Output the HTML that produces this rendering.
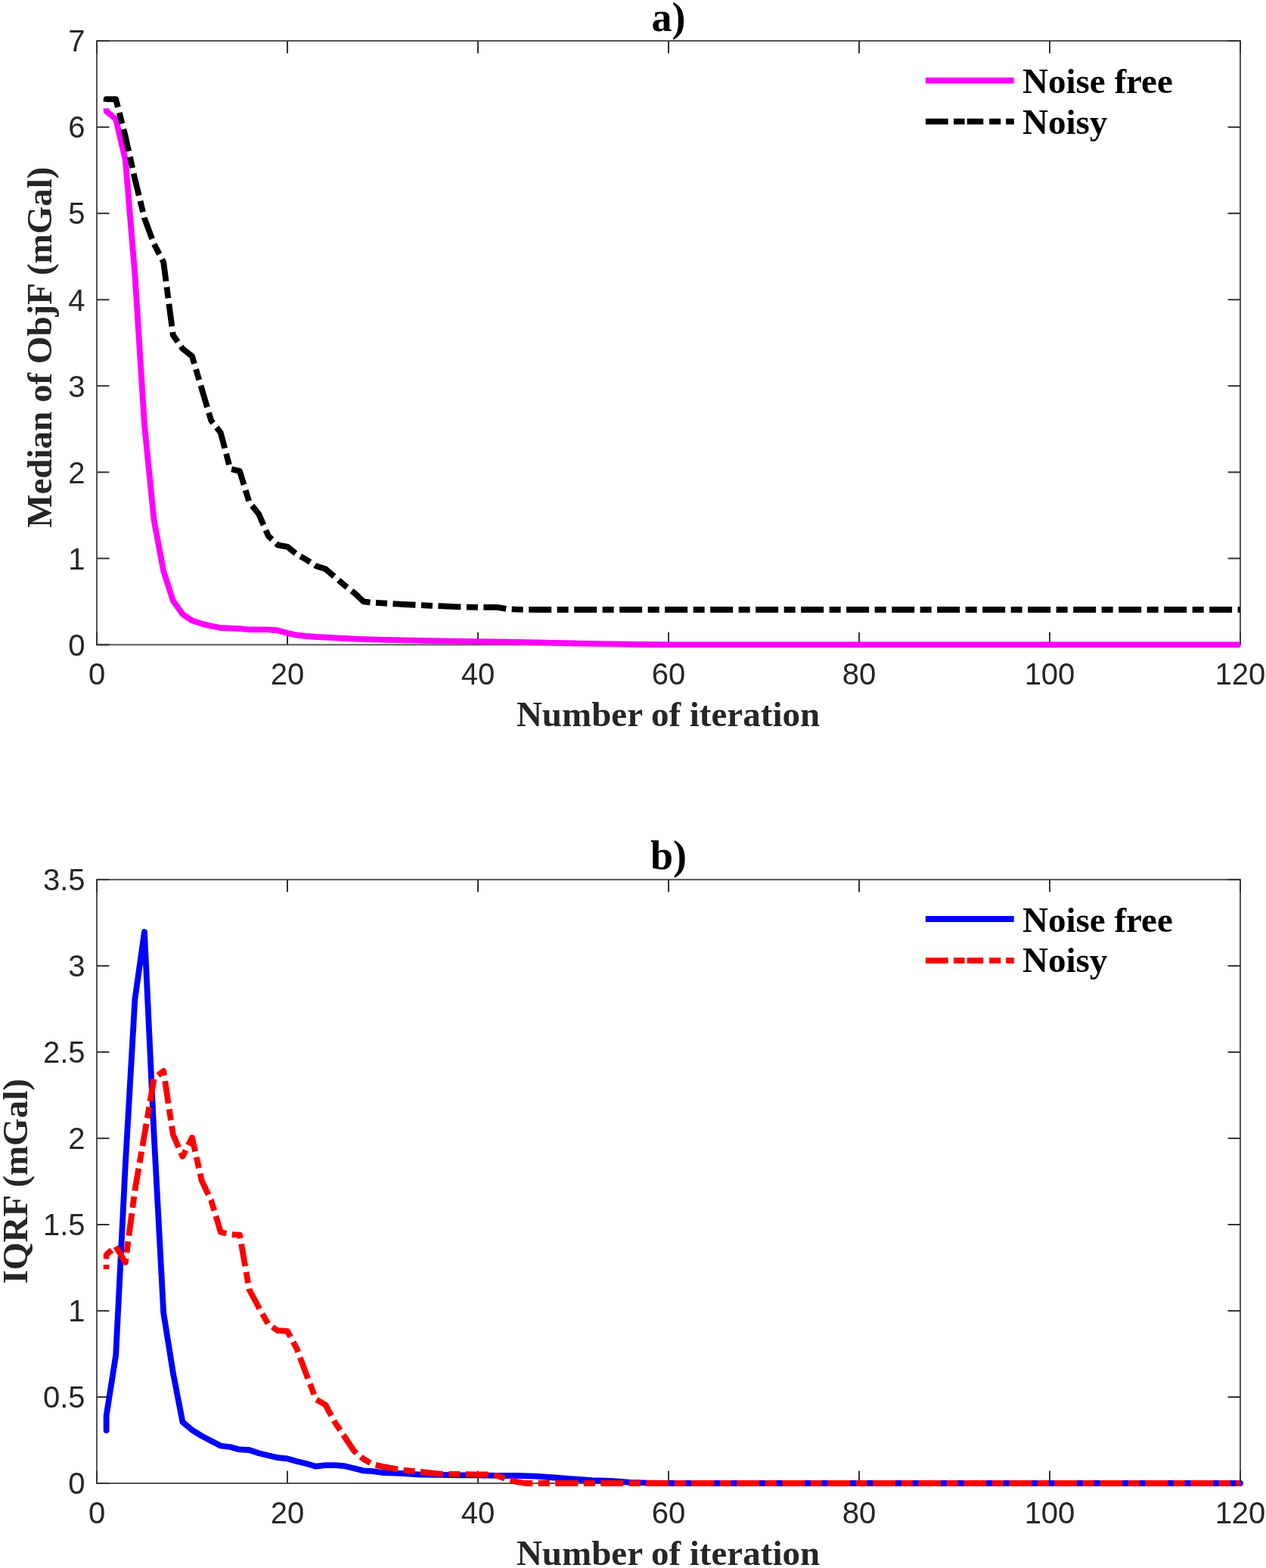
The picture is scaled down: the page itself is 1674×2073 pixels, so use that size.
<!DOCTYPE html>
<html><head><meta charset="utf-8"><title>Median and IQR of objective function vs iteration</title>
<style>html,body{margin:0;padding:0;background:#fff;}body{width:1674px;height:2073px;overflow:hidden;}svg{display:block;}</style>
</head><body>
<svg width="1674" height="2073" viewBox="0 0 1674 2073">
<rect x="0" y="0" width="1674" height="2073" fill="#ffffff"/>
<rect x="128.0" y="54.0" width="1512.0" height="798.4" fill="none" stroke="#555555" stroke-width="2"/>
<g stroke="#333333" stroke-width="2" fill="none"><line x1="128.0" y1="852.4" x2="128.0" y2="836.0"/><line x1="128.0" y1="54.0" x2="128.0" y2="70.4"/><line x1="380.0" y1="852.4" x2="380.0" y2="836.0"/><line x1="380.0" y1="54.0" x2="380.0" y2="70.4"/><line x1="632.0" y1="852.4" x2="632.0" y2="836.0"/><line x1="632.0" y1="54.0" x2="632.0" y2="70.4"/><line x1="884.0" y1="852.4" x2="884.0" y2="836.0"/><line x1="884.0" y1="54.0" x2="884.0" y2="70.4"/><line x1="1136.0" y1="852.4" x2="1136.0" y2="836.0"/><line x1="1136.0" y1="54.0" x2="1136.0" y2="70.4"/><line x1="1388.0" y1="852.4" x2="1388.0" y2="836.0"/><line x1="1388.0" y1="54.0" x2="1388.0" y2="70.4"/><line x1="1640.0" y1="852.4" x2="1640.0" y2="836.0"/><line x1="1640.0" y1="54.0" x2="1640.0" y2="70.4"/><line x1="128.0" y1="852.4" x2="144.4" y2="852.4"/><line x1="1640.0" y1="852.4" x2="1623.6" y2="852.4"/><line x1="128.0" y1="738.3" x2="144.4" y2="738.3"/><line x1="1640.0" y1="738.3" x2="1623.6" y2="738.3"/><line x1="128.0" y1="624.3" x2="144.4" y2="624.3"/><line x1="1640.0" y1="624.3" x2="1623.6" y2="624.3"/><line x1="128.0" y1="510.2" x2="144.4" y2="510.2"/><line x1="1640.0" y1="510.2" x2="1623.6" y2="510.2"/><line x1="128.0" y1="396.2" x2="144.4" y2="396.2"/><line x1="1640.0" y1="396.2" x2="1623.6" y2="396.2"/><line x1="128.0" y1="282.1" x2="144.4" y2="282.1"/><line x1="1640.0" y1="282.1" x2="1623.6" y2="282.1"/><line x1="128.0" y1="168.1" x2="144.4" y2="168.1"/><line x1="1640.0" y1="168.1" x2="1623.6" y2="168.1"/><line x1="128.0" y1="54.0" x2="144.4" y2="54.0"/><line x1="1640.0" y1="54.0" x2="1623.6" y2="54.0"/></g>
<g font-family='"Liberation Sans", Arial, Helvetica, sans-serif' font-size="40" fill="#262626"><text x="128.0" y="905.4" text-anchor="middle">0</text><text x="380.0" y="905.4" text-anchor="middle">20</text><text x="632.0" y="905.4" text-anchor="middle">40</text><text x="884.0" y="905.4" text-anchor="middle">60</text><text x="1136.0" y="905.4" text-anchor="middle">80</text><text x="1388.0" y="905.4" text-anchor="middle">100</text><text x="1640.0" y="905.4" text-anchor="middle">120</text><text x="112.5" y="866.7" text-anchor="end">0</text><text x="112.5" y="752.6" text-anchor="end">1</text><text x="112.5" y="638.6" text-anchor="end">2</text><text x="112.5" y="524.5" text-anchor="end">3</text><text x="112.5" y="410.5" text-anchor="end">4</text><text x="112.5" y="296.4" text-anchor="end">5</text><text x="112.5" y="182.4" text-anchor="end">6</text><text x="112.5" y="68.3" text-anchor="end">7</text></g>
<text x="884" y="40.5" text-anchor="middle" font-family='"Liberation Serif", "Times New Roman", Times, serif' font-weight="bold" font-size="54" fill="#000">a)</text>
<text x="883.5" y="960.1" text-anchor="middle" font-family='"Liberation Serif", "Times New Roman", Times, serif' font-weight="bold" font-size="47" fill="#262626">Number of iteration</text>
<text transform="translate(68.0 459.2) rotate(-90)" x="0" y="0" text-anchor="middle" font-family='"Liberation Serif", "Times New Roman", Times, serif' font-weight="bold" font-size="47" fill="#262626">Median of ObjF (mGal)</text>
<path d="M140.6 143.2 L140.6 147.0 L153.2 157.6 L165.8 211.3 L178.4 363.0 L191.0 562.0 L203.6 687.8 L216.2 755.0 L228.8 794.1 L241.4 812.0 L254.0 820.4 L266.6 824.6 L279.2 827.6 L291.8 830.0 L304.4 830.6 L317.0 831.2 L329.6 832.4 L342.2 832.4 L354.8 832.4 L367.4 833.5 L380.0 837.1 L392.6 839.6 L405.2 841.0 L417.8 842.0 L430.4 842.6 L443.0 843.3 L455.6 844.0 L468.2 844.6 L480.8 845.1 L506.0 845.8 L543.8 846.6 L581.6 847.3 L632.0 848.2 L669.8 848.6 L720.2 849.6 L758.0 850.5 L808.4 851.4 L846.2 852.0 L884.0 852.3 L1640.0 852.4" fill="none" stroke="#ff00ff" stroke-width="7.8" stroke-linejoin="round" stroke-linecap="butt"/>
<path d="M140.6 134.5 L140.6 131.2 L153.2 131.2 L165.8 180.0 L178.4 236.7 L191.0 288.6 L203.6 322.3 L216.2 346.5 L228.8 443.0 L241.4 461.0 L254.0 470.8 L266.6 513.6 L279.2 556.0 L291.8 572.2 L304.4 619.9 L317.0 622.9 L329.6 664.0 L342.2 679.6 L354.8 708.5 L367.4 720.6 L380.0 722.8 L392.6 733.0 L405.2 739.9 L417.8 748.3 L430.4 752.3 L443.0 763.0 L455.6 773.8 L468.2 783.6 L480.8 795.3 L493.4 796.7 L506.0 797.4 L531.2 798.9 L556.4 800.1 L581.6 801.2 L606.8 802.4 L632.0 802.8 L657.2 802.8 L669.8 805.0 L682.4 805.7 L707.6 806.0 L1640.0 806.0" fill="none" stroke="#000000" stroke-width="7.8" stroke-linejoin="round" stroke-linecap="butt" stroke-dasharray="30 7.5 15 7.5" stroke-dashoffset="3.2"/>
<line x1="1223.8" y1="106.5" x2="1340.7" y2="106.5" stroke="#ff00ff" stroke-width="7.8"/>
<line x1="1223.9" y1="160.6" x2="1340.8" y2="160.6" stroke="#000000" stroke-width="7.8" stroke-dasharray="29.8 7.3 14.6 3.1 21.6 7.8 15.1 7 10.6 20"/>
<text x="1352" y="123.3" font-family='"Liberation Serif", "Times New Roman", Times, serif' font-weight="bold" font-size="47" fill="#000">Noise free</text>
<text x="1352" y="176.7" font-family='"Liberation Serif", "Times New Roman", Times, serif' font-weight="bold" font-size="47" fill="#000">Noisy</text>
<rect x="128.0" y="1162.9" width="1512.0" height="798.1" fill="none" stroke="#555555" stroke-width="2"/>
<g stroke="#333333" stroke-width="2" fill="none"><line x1="128.0" y1="1961.0" x2="128.0" y2="1944.6"/><line x1="128.0" y1="1162.9" x2="128.0" y2="1179.3"/><line x1="380.0" y1="1961.0" x2="380.0" y2="1944.6"/><line x1="380.0" y1="1162.9" x2="380.0" y2="1179.3"/><line x1="632.0" y1="1961.0" x2="632.0" y2="1944.6"/><line x1="632.0" y1="1162.9" x2="632.0" y2="1179.3"/><line x1="884.0" y1="1961.0" x2="884.0" y2="1944.6"/><line x1="884.0" y1="1162.9" x2="884.0" y2="1179.3"/><line x1="1136.0" y1="1961.0" x2="1136.0" y2="1944.6"/><line x1="1136.0" y1="1162.9" x2="1136.0" y2="1179.3"/><line x1="1388.0" y1="1961.0" x2="1388.0" y2="1944.6"/><line x1="1388.0" y1="1162.9" x2="1388.0" y2="1179.3"/><line x1="1640.0" y1="1961.0" x2="1640.0" y2="1944.6"/><line x1="1640.0" y1="1162.9" x2="1640.0" y2="1179.3"/><line x1="128.0" y1="1961.0" x2="144.4" y2="1961.0"/><line x1="1640.0" y1="1961.0" x2="1623.6" y2="1961.0"/><line x1="128.0" y1="1847.0" x2="144.4" y2="1847.0"/><line x1="1640.0" y1="1847.0" x2="1623.6" y2="1847.0"/><line x1="128.0" y1="1733.0" x2="144.4" y2="1733.0"/><line x1="1640.0" y1="1733.0" x2="1623.6" y2="1733.0"/><line x1="128.0" y1="1619.0" x2="144.4" y2="1619.0"/><line x1="1640.0" y1="1619.0" x2="1623.6" y2="1619.0"/><line x1="128.0" y1="1504.9" x2="144.4" y2="1504.9"/><line x1="1640.0" y1="1504.9" x2="1623.6" y2="1504.9"/><line x1="128.0" y1="1390.9" x2="144.4" y2="1390.9"/><line x1="1640.0" y1="1390.9" x2="1623.6" y2="1390.9"/><line x1="128.0" y1="1276.9" x2="144.4" y2="1276.9"/><line x1="1640.0" y1="1276.9" x2="1623.6" y2="1276.9"/><line x1="128.0" y1="1162.9" x2="144.4" y2="1162.9"/><line x1="1640.0" y1="1162.9" x2="1623.6" y2="1162.9"/></g>
<g font-family='"Liberation Sans", Arial, Helvetica, sans-serif' font-size="40" fill="#262626"><text x="128.0" y="2014.0" text-anchor="middle">0</text><text x="380.0" y="2014.0" text-anchor="middle">20</text><text x="632.0" y="2014.0" text-anchor="middle">40</text><text x="884.0" y="2014.0" text-anchor="middle">60</text><text x="1136.0" y="2014.0" text-anchor="middle">80</text><text x="1388.0" y="2014.0" text-anchor="middle">100</text><text x="1640.0" y="2014.0" text-anchor="middle">120</text><text x="112.5" y="1975.3" text-anchor="end">0</text><text x="112.5" y="1861.3" text-anchor="end">0.5</text><text x="112.5" y="1747.3" text-anchor="end">1</text><text x="112.5" y="1633.3" text-anchor="end">1.5</text><text x="112.5" y="1519.2" text-anchor="end">2</text><text x="112.5" y="1405.2" text-anchor="end">2.5</text><text x="112.5" y="1291.2" text-anchor="end">3</text><text x="112.5" y="1177.2" text-anchor="end">3.5</text></g>
<text x="884" y="1149.2" text-anchor="middle" font-family='"Liberation Serif", "Times New Roman", Times, serif' font-weight="bold" font-size="54" fill="#000">b)</text>
<text x="883.5" y="2068.7" text-anchor="middle" font-family='"Liberation Serif", "Times New Roman", Times, serif' font-weight="bold" font-size="47" fill="#262626">Number of iteration</text>
<text transform="translate(36.0 1561.7) rotate(-90)" x="0" y="0" text-anchor="middle" font-family='"Liberation Serif", "Times New Roman", Times, serif' font-weight="bold" font-size="47" fill="#262626">IQRF (mGal)</text>
<path d="M140.6 1891.0 L140.6 1872.0 L153.2 1791.5 L165.8 1540.0 L178.4 1321.0 L191.0 1232.0 L203.6 1500.0 L216.2 1735.6 L228.8 1814.7 L241.4 1880.0 L254.0 1890.6 L266.6 1898.4 L279.2 1905.0 L291.8 1911.5 L304.4 1913.0 L317.0 1916.4 L329.6 1917.0 L342.2 1921.2 L354.8 1924.2 L367.4 1927.2 L380.0 1928.4 L392.6 1932.0 L405.2 1935.0 L417.8 1938.7 L430.4 1937.2 L443.0 1937.2 L455.6 1938.2 L468.2 1941.3 L480.8 1944.4 L493.4 1945.2 L506.0 1947.0 L531.2 1947.8 L556.4 1949.6 L581.6 1949.8 L606.8 1950.3 L632.0 1950.3 L657.2 1950.8 L682.4 1951.0 L707.6 1951.7 L732.8 1953.5 L758.0 1955.3 L783.2 1957.1 L808.4 1958.0 L833.6 1959.8 L858.8 1960.6 L884.0 1961.0 L1640.0 1961.0" fill="none" stroke="#0000ff" stroke-width="7.8" stroke-linejoin="round" stroke-linecap="round"/>
<path d="M140.6 1678.0 L140.6 1659.0 L153.2 1647.8 L165.8 1669.0 L178.4 1573.4 L191.0 1500.4 L203.6 1426.0 L216.2 1416.0 L228.8 1500.0 L241.4 1529.0 L254.0 1504.0 L266.6 1560.6 L279.2 1587.0 L291.8 1629.0 L304.4 1632.0 L317.0 1632.6 L329.6 1705.0 L342.2 1728.5 L354.8 1750.8 L367.4 1759.2 L380.0 1759.8 L392.6 1783.4 L405.2 1817.5 L417.8 1850.0 L430.4 1857.3 L443.0 1880.6 L455.6 1899.5 L468.2 1918.3 L480.8 1929.0 L493.4 1936.2 L506.0 1938.9 L531.2 1943.4 L556.4 1946.0 L581.6 1948.7 L606.8 1948.9 L632.0 1949.3 L644.6 1949.5 L657.2 1951.0 L669.8 1955.5 L682.4 1959.0 L695.0 1961.0 L1640.0 1961.0" fill="none" stroke="#ff0000" stroke-width="7.8" stroke-linejoin="round" stroke-linecap="butt" stroke-dasharray="30 7.5 15 7.5" stroke-dashoffset="24.0"/>
<line x1="1223.8" y1="1215.0" x2="1340.7" y2="1215.0" stroke="#0000ff" stroke-width="7.8"/>
<line x1="1223.9" y1="1269.8" x2="1340.8" y2="1269.8" stroke="#ff0000" stroke-width="7.8" stroke-dasharray="29.8 7.3 14.6 3.1 21.6 7.8 15.1 7 10.6 20"/>
<text x="1352" y="1231.8" font-family='"Liberation Serif", "Times New Roman", Times, serif' font-weight="bold" font-size="47" fill="#000">Noise free</text>
<text x="1352" y="1285.4" font-family='"Liberation Serif", "Times New Roman", Times, serif' font-weight="bold" font-size="47" fill="#000">Noisy</text>
</svg>
</body></html>
